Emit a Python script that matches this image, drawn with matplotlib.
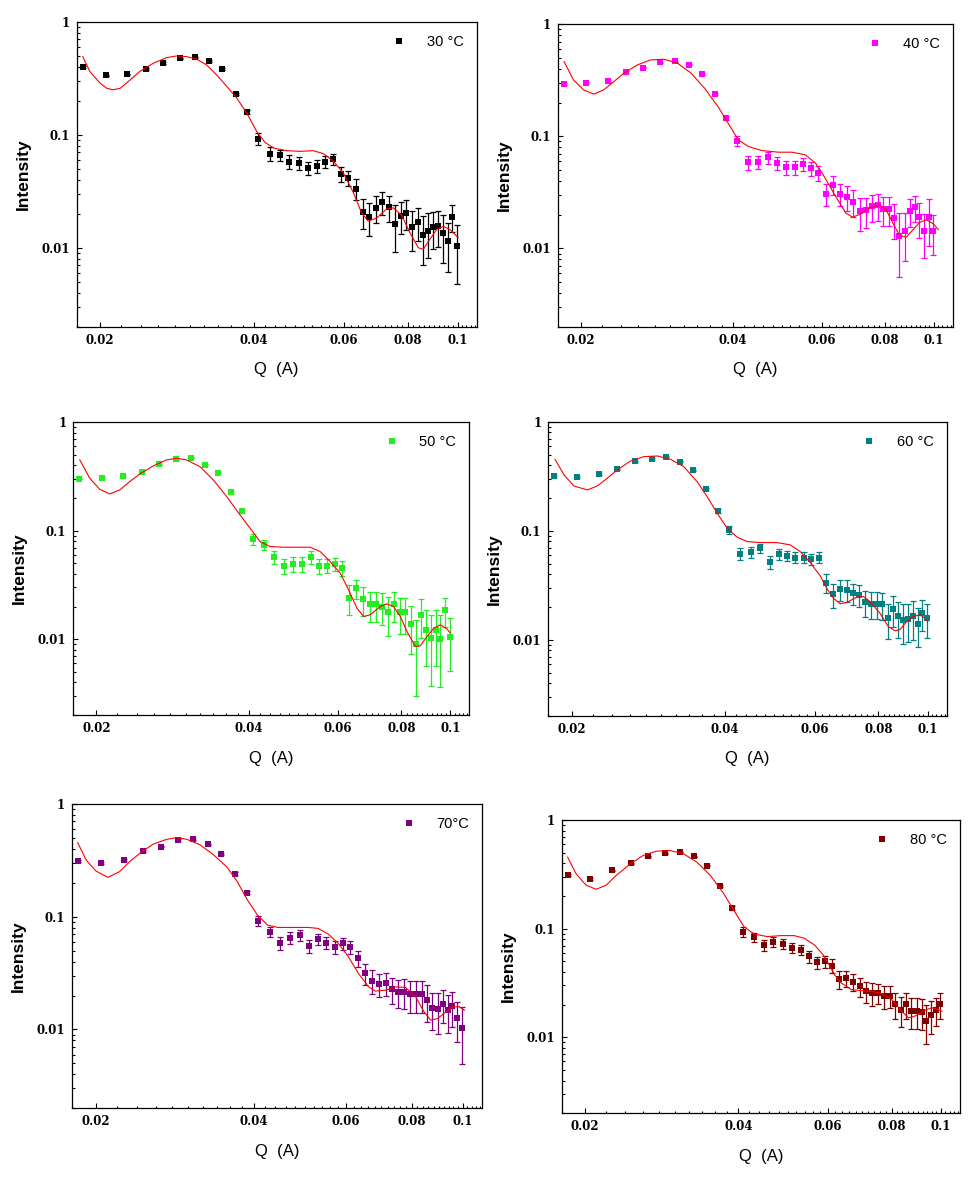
"""
SAXS intensity vs Q at six temperatures, data points with error bars and model fit.
"""

import matplotlib
matplotlib.use("Agg")
import matplotlib.pyplot as plt
from matplotlib.ticker import FixedLocator, FixedFormatter, MultipleLocator, LogLocator, NullFormatter

# tick labels are bold serif; other texts set their own font below
plt.rcParams["font.family"] = ["DejaVu Serif"]
plt.rcParams["font.weight"] = "bold"

# ---- data ----
q_data = [0.0185, 0.0205, 0.0226, 0.0246, 0.0266, 0.0287, 0.0307, 0.0327, 0.0347, 0.0368,
          0.0388, 0.0408, 0.0429, 0.0449, 0.0469, 0.0490, 0.0510, 0.0530, 0.0550, 0.0571,
          0.0591, 0.0611, 0.0632, 0.0652, 0.0672, 0.0693, 0.0713, 0.0733, 0.0753, 0.0774,
          0.0794, 0.0814, 0.0835, 0.0855, 0.0875, 0.0896, 0.0916, 0.0936, 0.0956, 0.0977,
          0.0997]

temps = ["30 °C", "40 °C", "50 °C", "60 °C", "70°C", "80 °C"]
colors = ["#000000", "#FF00FF", "#22EE22", "#008080", "#800080", "#800000"]

i_30 = [0.398, 0.336, 0.343, 0.384, 0.434, 0.477, 0.487, 0.452, 0.382, 0.231,
        0.159, 0.0919, 0.0682, 0.0664, 0.0579, 0.0564, 0.0509, 0.0527, 0.0575, 0.0612,
        0.0454, 0.0416, 0.0334, 0.0208, 0.0188, 0.0226, 0.0253, 0.0230, 0.0164, 0.0193,
        0.0204, 0.0153, 0.0170, 0.0131, 0.0142, 0.0152, 0.0157, 0.0134, 0.0114, 0.0188,
        0.0103]
i_40 = [0.292, 0.298, 0.313, 0.376, 0.411, 0.458, 0.468, 0.437, 0.358, 0.238,
        0.145, 0.0912, 0.0589, 0.0589, 0.0648, 0.0577, 0.0531, 0.0531, 0.0565, 0.0520,
        0.0470, 0.0307, 0.0370, 0.0307, 0.0287, 0.0259, 0.0214, 0.0218, 0.0237, 0.0242,
        0.0224, 0.0224, 0.0186, 0.0130, 0.0142, 0.0214, 0.0233, 0.0190, 0.0142, 0.0190,
        0.0142]
i_50 = [0.303, 0.307, 0.320, 0.348, 0.410, 0.456, 0.472, 0.404, 0.344, 0.226,
        0.151, 0.0835, 0.0740, 0.0570, 0.0478, 0.0495, 0.0495, 0.0570, 0.0478, 0.0478,
        0.0491, 0.0451, 0.0242, 0.0295, 0.0235, 0.0210, 0.0210, 0.0200, 0.0177, 0.0210,
        0.0177, 0.0177, 0.0138, 0.0090, 0.0168, 0.0122, 0.0102, 0.0122, 0.0101, 0.0184,
        0.0104]
i_60 = [0.320, 0.313, 0.332, 0.366, 0.433, 0.455, 0.478, 0.430, 0.358, 0.240,
        0.152, 0.102, 0.0614, 0.0635, 0.0691, 0.0518, 0.0614, 0.0588, 0.0568, 0.0568,
        0.0548, 0.0568, 0.0335, 0.0262, 0.0291, 0.0287, 0.0268, 0.0258, 0.0221, 0.0214,
        0.0214, 0.0211, 0.0157, 0.0192, 0.0164, 0.0152, 0.0155, 0.0164, 0.0140, 0.0176,
        0.0158]
i_70 = [0.312, 0.301, 0.318, 0.383, 0.418, 0.479, 0.489, 0.439, 0.362, 0.241,
        0.164, 0.0916, 0.0736, 0.0588, 0.0651, 0.0688, 0.0553, 0.0634, 0.0588, 0.0542,
        0.0580, 0.0542, 0.0427, 0.0314, 0.0270, 0.0253, 0.0260, 0.0228, 0.0216, 0.0216,
        0.0206, 0.0206, 0.0206, 0.0182, 0.0154, 0.0151, 0.0170, 0.0149, 0.0161, 0.0127,
        0.0104]
i_80 = [0.310, 0.289, 0.344, 0.399, 0.462, 0.496, 0.503, 0.462, 0.380, 0.247,
        0.155, 0.0939, 0.0833, 0.0704, 0.0760, 0.0724, 0.0670, 0.0638, 0.0555, 0.0489,
        0.0499, 0.0456, 0.0344, 0.0349, 0.0325, 0.0295, 0.0265, 0.0256, 0.0256, 0.0239,
        0.0242, 0.0203, 0.0180, 0.0203, 0.0174, 0.0175, 0.0172, 0.0142, 0.0162, 0.0178,
        0.0203]

err_30 = [0.006, 0.006, 0.006, 0.006, 0.006, 0.006, 0.006, 0.006, 0.006, 0.006,
          0.006, 0.011, 0.0095, 0.0075, 0.008, 0.0076, 0.007, 0.007, 0.007, 0.007,
          0.007, 0.006, 0.007, 0.006, 0.006, 0.006, 0.0057, 0.006, 0.0073, 0.006,
          0.006, 0.006, 0.0055, 0.006, 0.006, 0.0055, 0.0055, 0.006, 0.0053, 0.005,
          0.0055]
err_40 = [0.006, 0.006, 0.006, 0.006, 0.006, 0.006, 0.006, 0.006, 0.006, 0.006,
          0.006, 0.009, 0.0085, 0.008, 0.008, 0.008, 0.0075, 0.0075, 0.0075, 0.0075,
          0.007, 0.007, 0.007, 0.007, 0.007, 0.007, 0.007, 0.0065, 0.0065, 0.0065,
          0.0065, 0.0065, 0.0065, 0.0075, 0.0065, 0.006, 0.006, 0.0065, 0.006, 0.0085,
          0.0055]
err_50 = [0.006, 0.006, 0.006, 0.006, 0.006, 0.006, 0.006, 0.006, 0.006, 0.006,
          0.006, 0.010, 0.008, 0.0075, 0.0075, 0.0075, 0.0075, 0.0075, 0.0075, 0.007,
          0.007, 0.007, 0.0075, 0.006, 0.007, 0.0065, 0.0065, 0.0065, 0.007, 0.0065,
          0.0065, 0.0065, 0.0065, 0.006, 0.0065, 0.0065, 0.0065, 0.0065, 0.0065, 0.0055,
          0.0053]
err_60 = [0.006, 0.006, 0.006, 0.006, 0.006, 0.006, 0.006, 0.006, 0.006, 0.006,
          0.006, 0.009, 0.0075, 0.007, 0.007, 0.007, 0.007, 0.0065, 0.0065, 0.0065,
          0.0065, 0.0065, 0.0065, 0.0065, 0.0065, 0.0065, 0.006, 0.006, 0.006, 0.006,
          0.006, 0.006, 0.0055, 0.006, 0.006, 0.006, 0.006, 0.0065, 0.0055, 0.0055,
          0.0055]
err_70 = [0.006, 0.006, 0.006, 0.006, 0.006, 0.006, 0.006, 0.006, 0.006, 0.006,
          0.006, 0.009, 0.008, 0.008, 0.0075, 0.0075, 0.0075, 0.0075, 0.007, 0.007,
          0.007, 0.007, 0.007, 0.0065, 0.0065, 0.006, 0.006, 0.006, 0.006, 0.0065,
          0.0065, 0.0065, 0.0065, 0.0065, 0.0055, 0.006, 0.0055, 0.0055, 0.0055, 0.005,
          0.0055]
err_80 = [0.006, 0.006, 0.006, 0.006, 0.006, 0.006, 0.006, 0.006, 0.006, 0.006,
          0.006, 0.010, 0.008, 0.008, 0.0075, 0.0075, 0.007, 0.007, 0.007, 0.0065,
          0.0065, 0.0065, 0.0065, 0.006, 0.006, 0.006, 0.006, 0.006, 0.0055, 0.0055,
          0.0055, 0.0055, 0.0055, 0.0055, 0.0055, 0.0055, 0.0055, 0.0055, 0.0055, 0.005,
          0.0055]

# fitted model curves (red)
fit_q_30 = [0.0185, 0.0191, 0.0200, 0.0206, 0.0212, 0.0219, 0.0229, 0.0239, 0.0254, 0.0270,
            0.0282, 0.0295, 0.0309, 0.0323, 0.0338, 0.0354, 0.0370, 0.0387, 0.0405, 0.0420,
            0.0437, 0.0463, 0.0492, 0.0522, 0.0547, 0.0572, 0.0598, 0.0626, 0.0649, 0.0669,
            0.0695, 0.0727, 0.0749, 0.0778, 0.0807, 0.0838, 0.0857, 0.0883, 0.0910, 0.0938,
            0.0966, 0.1003]
fit_i_30 = [0.494, 0.364, 0.287, 0.259, 0.251, 0.259, 0.307, 0.364, 0.431, 0.484,
            0.500, 0.494, 0.468, 0.417, 0.340, 0.268, 0.212, 0.156, 0.107, 0.0859,
            0.0765, 0.0725, 0.0715, 0.0725, 0.0682, 0.0583, 0.0460, 0.0306, 0.0204, 0.0172,
            0.0184, 0.0221, 0.0226, 0.0193, 0.0136, 0.0100, 0.0097, 0.0119, 0.0145, 0.0155,
            0.0145, 0.0123]
fit_q_40 = [0.01853, 0.01934, 0.02025, 0.02120, 0.02220, 0.02325, 0.02434, 0.02588, 0.02750, 0.02925,
            0.03110, 0.03307, 0.03516, 0.03738, 0.03915, 0.04100, 0.04293, 0.04563, 0.04926, 0.05236,
            0.05568, 0.05830, 0.06013, 0.06199, 0.06393, 0.06693, 0.06902, 0.07117, 0.07452, 0.07803,
            0.08047, 0.08298, 0.08556, 0.08822, 0.09097, 0.09380, 0.09672, 0.09973, 0.10205]
fit_i_40 = [0.465, 0.319, 0.260, 0.238, 0.260, 0.308, 0.366, 0.434, 0.481, 0.488,
            0.449, 0.366, 0.269, 0.1845, 0.131, 0.0931, 0.0812, 0.0747, 0.0722, 0.0722,
            0.0684, 0.0577, 0.0469, 0.0370, 0.0291, 0.0207, 0.0190, 0.0200, 0.0229, 0.0245,
            0.0221, 0.0168, 0.0130, 0.0126, 0.0147, 0.0171, 0.0180, 0.0166, 0.0147]
fit_q_50 = [0.01854, 0.0194, 0.0203, 0.02125, 0.02224, 0.02327, 0.02436, 0.02589, 0.02750, 0.02879,
            0.03013, 0.03202, 0.03403, 0.03616, 0.03843, 0.04022, 0.04208, 0.04405, 0.04681, 0.05049,
            0.05284, 0.05532, 0.05790, 0.06061, 0.06295, 0.06539, 0.06740, 0.06947, 0.07271, 0.07495,
            0.07726, 0.07964, 0.08209, 0.08528, 0.08724, 0.08993, 0.09270, 0.09556, 0.09850, 0.1000]
fit_i_50 = [0.450, 0.305, 0.241, 0.2186, 0.238, 0.284, 0.334, 0.396, 0.450, 0.466,
            0.450, 0.390, 0.294, 0.2065, 0.140, 0.1054, 0.0795, 0.0715, 0.0705, 0.0705,
            0.0705, 0.0643, 0.0520, 0.0406, 0.0285, 0.0193, 0.0162, 0.0168, 0.0200, 0.0212,
            0.0200, 0.0162, 0.0118, 0.00856, 0.00869, 0.0106, 0.0126, 0.0136, 0.0124, 0.0114]
fit_q_60 = [0.01855, 0.01933, 0.02021, 0.02147, 0.02246, 0.02349, 0.02457, 0.02610, 0.02772, 0.02944,
            0.03127, 0.03321, 0.03527, 0.03691, 0.03862, 0.04041, 0.04228, 0.04423, 0.04692, 0.05058,
            0.05372, 0.05621, 0.05881, 0.06152, 0.06339, 0.06533, 0.06731, 0.06936, 0.07258, 0.07480,
            0.07707, 0.08063, 0.08373, 0.08630, 0.08826, 0.09096, 0.09373, 0.09659, 0.09880, 0.1000]
fit_i_60 = [0.452, 0.325, 0.2575, 0.2366, 0.2575, 0.3027, 0.361, 0.436, 0.478, 0.485,
            0.452, 0.387, 0.282, 0.2056, 0.1446, 0.1054, 0.0872, 0.0796, 0.0779, 0.0779,
            0.0742, 0.0645, 0.0511, 0.0386, 0.0297, 0.0241, 0.0214, 0.0220, 0.0246, 0.0249,
            0.0224, 0.0175, 0.0132, 0.0121, 0.0124, 0.0147, 0.0164, 0.0169, 0.0158, 0.0147]
fit_q_70 = [0.01848, 0.01918, 0.02003, 0.02110, 0.02220, 0.02321, 0.02426, 0.02574, 0.02731, 0.02854,
            0.02983, 0.03165, 0.03357, 0.03561, 0.03722, 0.03891, 0.04066, 0.04251, 0.04443, 0.04713,
            0.05075, 0.05305, 0.05545, 0.05796, 0.06058, 0.06332, 0.06618, 0.06818, 0.07126, 0.07449,
            0.07785, 0.08137, 0.08443, 0.08696, 0.08956, 0.09290, 0.09569, 0.09855, 0.1008]
fit_i_70 = [0.454, 0.318, 0.254, 0.2235, 0.251, 0.308, 0.365, 0.441, 0.486, 0.503,
            0.486, 0.433, 0.353, 0.274, 0.2045, 0.1406, 0.1035, 0.0843, 0.0804, 0.0804,
            0.0804, 0.0788, 0.0702, 0.0580, 0.0442, 0.0314, 0.0239, 0.0219, 0.0223, 0.0239,
            0.0236, 0.0195, 0.0143, 0.0121, 0.0125, 0.0143, 0.0159, 0.0159, 0.0148]
fit_q_80 = [0.01849, 0.0192, 0.0201, 0.02103, 0.02200, 0.02304, 0.02447, 0.02601, 0.02763, 0.02936,
            0.03121, 0.03316, 0.03524, 0.03743, 0.03919, 0.04102, 0.04293, 0.04561, 0.04846, 0.05150,
            0.05392, 0.05643, 0.05907, 0.06182, 0.06372, 0.06669, 0.06980, 0.07306, 0.07646, 0.08003,
            0.08376, 0.08630, 0.08895, 0.09311, 0.09597, 0.09891, 0.1004]
fit_i_80 = [0.4556, 0.321, 0.251, 0.2305, 0.251, 0.3096, 0.390, 0.472, 0.517, 0.524,
            0.489, 0.410, 0.3096, 0.2105, 0.148, 0.1044, 0.0894, 0.0845, 0.0863, 0.0863,
            0.0816, 0.0709, 0.0555, 0.0377, 0.0316, 0.0275, 0.0269, 0.0265, 0.0253, 0.0223,
            0.0174, 0.0151, 0.0157, 0.0178, 0.0187, 0.0180, 0.0174]

x_ticks = [0.02, 0.04, 0.06, 0.08, 0.1]
x_tick_labels = ["0.02", "0.04", "0.06", "0.08", "0.1"]
y_ticks = [0.01, 0.1, 1]
y_tick_labels = ["0.01", "0.1", "1"]

# axes boxes in pixels (left, top, right, bottom) on a 979 x 1190 canvas
W, H = 979, 1190
boxes = [(76.7, 22, 476.7, 326.7), (557.7, 24.3, 952.7, 326.7),
         (73.3, 422.3, 469.3, 715), (548.3, 421.7, 946.7, 716),
         (71.7, 804, 482.3, 1108.3), (561.7, 820, 960, 1113.3)]


def plot_panel(fig, box, i_vals, errs, fit_q, fit_i, color, label):
    """Draw one temperature panel."""
    l, t, r, b = box
    ax = fig.add_axes([l / W, 1 - b / H, (r - l) / W, (b - t) / H])
    ax.set_xscale("log")
    ax.set_yscale("log")

    ax.errorbar(q_data, i_vals, yerr=errs, fmt="none", ecolor=color,
                elinewidth=0.9, capsize=2.0, capthick=0.9, zorder=2)
    ax.plot(q_data, i_vals, "s", color=color, ms=4.3, mew=0, zorder=3, label=label)
    ax.plot(fit_q, fit_i, "-", color="#FF0000", lw=0.8, zorder=4)

    ax.set_xlim(0.018, 0.109)
    ax.set_ylim(0.002, 1)

    ax.xaxis.set_major_locator(FixedLocator(x_ticks))
    ax.xaxis.set_major_formatter(FixedFormatter(x_tick_labels))
    ax.xaxis.set_minor_locator(MultipleLocator(0.002))
    ax.xaxis.set_minor_formatter(NullFormatter())
    ax.yaxis.set_major_locator(FixedLocator(y_ticks))
    ax.yaxis.set_major_formatter(FixedFormatter(y_tick_labels))
    ax.yaxis.set_minor_locator(LogLocator(base=10, subs=range(2, 10)))
    ax.yaxis.set_minor_formatter(NullFormatter())

    ax.tick_params(which="both", direction="in", top=False, right=False, width=0.8)
    ax.tick_params(which="major", length=3.5, pad=5, labelsize=8.5)
    ax.tick_params(which="minor", length=1.8)
    for sp in ax.spines.values():
        sp.set_linewidth(0.9)

    ax.set_xlabel("Q  (A)", fontsize=12, family="Liberation Sans", weight="normal")
    ax.set_ylabel("Intensity", fontsize=12.5, family="Liberation Sans", weight="bold")
    # place labels a fixed pixel distance from the frame
    hpx = b - t
    wpx = r - l
    ax.xaxis.set_label_coords(0.5, -35.5 / hpx)
    ax.yaxis.set_label_coords(-46.0 / wpx, 0.5)

    ax.legend(loc="upper right", frameon=False, handlelength=0.6,
              handletextpad=1.6, borderaxespad=0.5, markerscale=1.0,
              prop={"family": "Liberation Sans", "size": 10.5, "weight": "normal"})
    return ax


def main():
    fig = plt.figure(figsize=(W / 100, H / 100), dpi=100)
    series = [(i_30, err_30, fit_q_30, fit_i_30),
              (i_40, err_40, fit_q_40, fit_i_40),
              (i_50, err_50, fit_q_50, fit_i_50),
              (i_60, err_60, fit_q_60, fit_i_60),
              (i_70, err_70, fit_q_70, fit_i_70),
              (i_80, err_80, fit_q_80, fit_i_80)]
    for box, (iv, ev, fq, fi), c, lab in zip(boxes, series, colors, temps):
        plot_panel(fig, box, iv, ev, fq, fi, c, lab)
    fig.savefig("out.png", dpi=100)


if __name__ == "__main__":
    main()
